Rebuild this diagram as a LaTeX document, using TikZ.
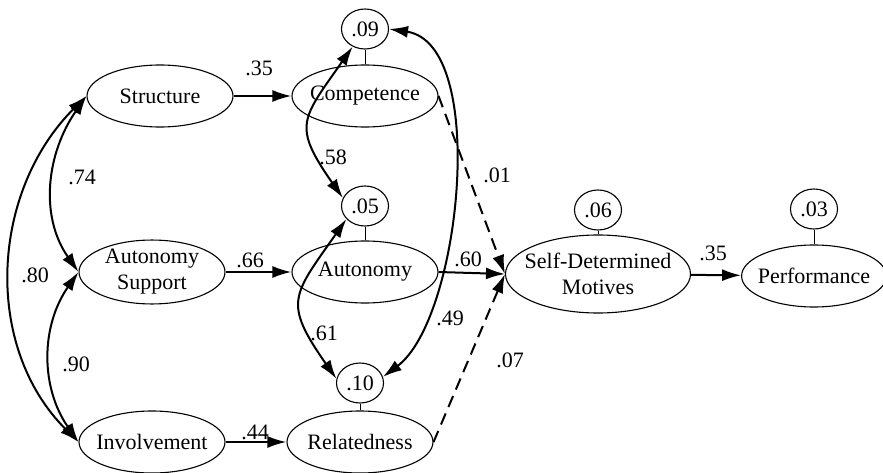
\documentclass[tikz,border=0pt]{standalone}
\usepackage{fontspec}
\setmainfont{Liberation Serif}
\usetikzlibrary{shapes,arrows.meta}
\tikzstyle{latent} = [ellipse, draw, line width=1.1pt, inner sep=0pt, inner xsep=-5pt,
    minimum width=146pt, minimum height=62pt, align=center,
    font=\fontsize{22}{26}\selectfont]
\tikzstyle{resid} = [ellipse, draw, line width=1.1pt, inner sep=0pt,
    minimum width=47pt, minimum height=40pt, font=\fontsize{22}{26}\selectfont]
\tikzstyle{line} = [draw, line width=2pt, -{Latex[length=19pt,width=12pt]}]
\tikzstyle{corr} = [draw, line width=2pt,
    {Latex[length=19pt,width=12pt]}-{Latex[length=19pt,width=12pt]}]
\tikzstyle{weak} = [line, dash pattern=on 12pt off 7pt]
\tikzstyle{err} = [draw, line width=1pt]
\tikzstyle{coef} = [inner sep=0pt, font=\fontsize{22}{26}\selectfont]

\begin{document}
\begin{tikzpicture}[x=1pt, y=1pt]
    \useasboundingbox (0,0) rectangle (883,-473);
    % Place nodes
    % Climate
    \node [latent] (struct) at (160,-96) {Structure};
    \node [latent] (autsup) at (152,-272) {Autonomy\\Support};
    \node [latent] (involv) at (152,-442) {Involvement};

    % Needs
    \node [latent] (comp) at (365,-96) {Competence};
    \node [latent] (auto) at (365,-272) {Autonomy};
    \node [latent] (relat) at (360,-442) {Relatedness};

    % Outcomes
    \node [latent, minimum width=185pt, minimum height=78pt, inner xsep=-22pt] (sdm) at (598,-274) {Self-Determined\\Motives};
    \node [latent, minimum width=140pt] (perf) at (814,-276) {Performance};

    % Residuals
    \node [resid] (r09) at (365,-29) {.09};
    \node [resid] (r05) at (365,-206) {.05};
    \node [resid] (r10) at (360,-383) {.10};
    \node [resid] (r06) at (598,-210) {.06};
    \node [resid] (r03) at (814,-209) {.03};

    % Draw edges
    % Paths
    \path [line] (struct) -- (comp);
    \path [line] (autsup) -- (auto);
    \path [line] (involv) -- (relat);
    \path [line] (auto.east) -- (sdm.west);
    \path [weak] (comp.east) -- (sdm.west);
    \path [weak] (relat.east) -- (sdm.west);
    \path [line] (sdm) -- (perf);

    % Residual links
    \path [err] (r09) -- (comp);
    \path [err] (r05) -- (auto);
    \path [err] (r10) -- (relat);
    \path [err] (r06) -- (sdm);
    \path [err] (r03) -- (perf);

    % Correlations
    \path [corr] (struct.west) to[out=235, in=125] (autsup.west);
    \path [corr] (struct.west) to[out=225, in=135] (involv.west);
    \path [corr] (autsup.west) to[out=235, in=125] (involv.west);
    \path [corr] (r09.235) to[out=235, in=125, looseness=1.5] (r05.160);
    \path [corr] (r05.215) to[out=235, in=125, looseness=1.5] (r10.170);
    \path [corr] (r09.east) .. controls +(100,-15) and +(78,58) .. (r10.15);

    % Coefficients
    \node [coef] (c74) at (82,-177) {.74};
    \node [coef] (c80) at (35,-275) {.80};
    \node [coef] (c90) at (76,-364) {.90};
    \node [coef] (c35a) at (259,-68) {.35};
    \node [coef] (c66) at (250,-260) {.66};
    \node [coef] (c44) at (255,-432) {.44};
    \node [coef] (c58) at (333,-157) {.58};
    \node [coef] (c61) at (324,-333) {.61};
    \node [coef] (c49) at (450,-318) {.49};
    \node [coef] (c01) at (497,-175) {.01};
    \node [coef] (c60) at (468,-259) {.60};
    \node [coef] (c07) at (510,-360) {.07};
    \node [coef] (c35b) at (713,-253) {.35};

\end{tikzpicture}
\end{document}
